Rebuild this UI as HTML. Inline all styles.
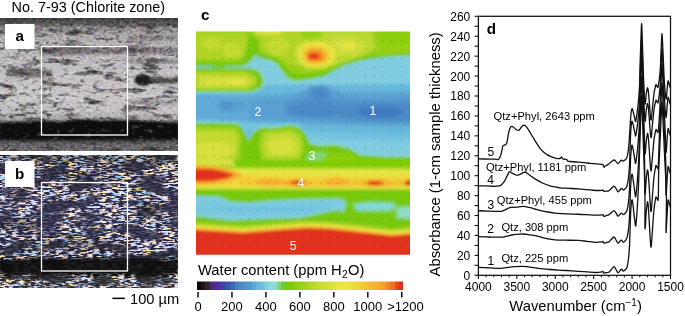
<!DOCTYPE html>
<html><head><meta charset="utf-8"><style>
html,body{margin:0;padding:0;background:#fff;}
body{width:685px;height:316px;position:relative;overflow:hidden;font-family:"Liberation Sans",sans-serif;color:#111;}
.t{position:absolute;white-space:nowrap;line-height:1;}
svg{position:absolute;left:0;top:0;}
</style></head><body>

<svg width="685" height="316" viewBox="0 0 685 316">
<defs>
<filter id="streakA" x="0" y="0" width="100%" height="100%" color-interpolation-filters="sRGB">
  <feTurbulence type="fractalNoise" baseFrequency="0.05 0.17" numOctaves="3" seed="3"/>
  <feColorMatrix type="matrix" values="0 0 0 0 0.22  0 0 0 0 0.21  0 0 0 0 0.24  -3.4 0 0 0 1.6" />
</filter>
<filter id="darkA" x="0" y="0" width="100%" height="100%" color-interpolation-filters="sRGB">
  <feTurbulence type="fractalNoise" baseFrequency="0.13 0.24" numOctaves="3" seed="17"/>
  <feColorMatrix type="matrix" values="0 0 0 0 0.3  0 0 0 0 0.29  0 0 0 0 0.32  -3.6 0 0 0 1.45" />
</filter>
<filter id="speckA" x="0" y="0" width="100%" height="100%" color-interpolation-filters="sRGB">
  <feTurbulence type="fractalNoise" baseFrequency="0.3 0.42" numOctaves="2" seed="7" result="t"/>
  <feColorMatrix in="t" type="matrix" values="1.3 0.3 0 0 -0.3  0.9 0.7 0 0 -0.3  1.0 0 0.4 0 -0.25  0 0 0 0 1" />
</filter>
<filter id="speckB" x="0" y="0" width="100%" height="100%" color-interpolation-filters="sRGB">
  <feTurbulence type="fractalNoise" baseFrequency="0.16 0.6" numOctaves="3" seed="4" result="t1"/>
  <feColorMatrix in="t1" type="matrix" values="3.6 0 0 0 -1.5  3.6 0 0 0 -1.5  3.6 0 0 0 -1.5  0 0 0 0 1" result="L"/>
  <feTurbulence type="fractalNoise" baseFrequency="0.03 0.08" numOctaves="2" seed="31" result="t3"/>
  <feColorMatrix in="t3" type="matrix" values="4.5 0 0 0 -1.6  4.5 0 0 0 -1.6  4.5 0 0 0 -1.6  0 0 0 0 1" result="M"/>
  <feComposite in="L" in2="M" operator="arithmetic" k1="1.5" k2="0.2" k3="0" k4="0" result="LM"/>
  <feTurbulence type="fractalNoise" baseFrequency="0.09 0.25" numOctaves="2" seed="12" result="t2"/>
  <feColorMatrix in="t2" type="matrix" values="1.6 0 0 0 0.1  0.2 0 0 0 0.76  -1.6 0 0 0 1.72  0 0 0 0 1" result="H"/>
  <feComposite in="LM" in2="H" operator="arithmetic" k1="1" k2="0" k3="0" k4="0"/>
</filter>
<filter id="blur1"><feGaussianBlur stdDeviation="1.2"/></filter>
<filter id="blur2"><feGaussianBlur stdDeviation="2"/></filter>
<filter id="blur3"><feGaussianBlur stdDeviation="3"/></filter>
<filter id="mapblur" x="-5%" y="-5%" width="110%" height="110%"><feGaussianBlur stdDeviation="1.4"/></filter>
<linearGradient id="gA" x1="0" y1="0" x2="0" y2="1">
  <stop offset="0" stop-color="#3a383c"/>
  <stop offset="0.035" stop-color="#5a575c"/>
  <stop offset="0.07" stop-color="#8e8a90"/>
  <stop offset="0.12" stop-color="#aaa6ac"/>
  <stop offset="0.2" stop-color="#b8b4ba"/>
  <stop offset="0.4" stop-color="#c4c0c6"/>
  <stop offset="0.6" stop-color="#cac6cc"/>
  <stop offset="0.71" stop-color="#c2bec4"/>
  <stop offset="0.76" stop-color="#a6a2a8"/>
  <stop offset="0.785" stop-color="#6a676e"/>
  <stop offset="0.81" stop-color="#1a191c"/>
  <stop offset="0.895" stop-color="#141316"/>
  <stop offset="0.925" stop-color="#4a474e"/>
  <stop offset="0.95" stop-color="#6a666e"/>
  <stop offset="1" stop-color="#706c74"/>
</linearGradient>
<linearGradient id="gB" x1="0" y1="0" x2="0" y2="1">
  <stop offset="0" stop-color="#222230"/>
  <stop offset="0.06" stop-color="#2a2936"/>
  <stop offset="0.1" stop-color="#262438"/>
  <stop offset="0.4" stop-color="#2c2a46"/>
  <stop offset="0.74" stop-color="#28263c"/>
  <stop offset="0.78" stop-color="#1e1d26"/>
  <stop offset="0.8" stop-color="#0e0e10"/>
  <stop offset="0.9" stop-color="#121214"/>
  <stop offset="0.93" stop-color="#2a2930"/>
  <stop offset="1" stop-color="#302f38"/>
</linearGradient>
<clipPath id="clipA"><rect x="0" y="18" width="178" height="133"/></clipPath>
<clipPath id="clipB"><rect x="0" y="155" width="178" height="133"/></clipPath>
<clipPath id="clipMap"><rect x="196" y="31.5" width="214" height="223.2"/></clipPath>
</defs>
<g clip-path="url(#clipA)">
<rect x="0" y="18" width="178" height="133" fill="url(#gA)"/>
<rect x="0" y="18" width="178" height="133" filter="url(#streakA)"/>
<g filter="url(#blur1)">
<path d="M40,46 C60,45 90,48 125,46 L178,48 L178,54 C140,55 100,53 60,56 L40,55 Z" fill="#4a4650" opacity="0.55"/>
<path d="M0,29 C10,28 25,30 40,29 L40,34 C25,35 10,34 0,34Z" fill="#5a5660" opacity="0.5"/>
<path d="M40,22 C80,21 120,23 178,21 L178,26 C120,27 80,26 40,27Z" fill="#55525a" opacity="0.45"/>
<path d="M128,36 C145,35 160,37 178,35 L178,40 C160,41 145,41 128,40Z" fill="#55525a" opacity="0.45"/>
<path d="M6,70 C20,66 35,67 52,71 L52,76 C35,78 20,78 6,76Z" fill="#3e3b44" opacity="0.65"/>
<ellipse cx="143" cy="80" rx="8.5" ry="6" fill="#1e1c22"/>
<path d="M148,77 C160,76 170,79 178,78 L178,83 C168,84 160,84 148,83Z" fill="#2a282e" opacity="0.75"/>
<path d="M128,60 C140,58 160,60 178,59 L178,63 C160,64 140,64 128,63Z" fill="#55525a" opacity="0.5"/>
<path d="M0,123 C20,122 40,120 60,122 C75,119 90,118 100,121 C115,119 135,121 160,122 L178,123 L178,139 C140,140 100,139 60,140 C30,140 10,139 0,139Z" fill="#0e0d10"/>
<path d="M128,100 C145,99 160,101 178,100 L178,104 C160,105 145,105 128,104Z" fill="#5a5660" opacity="0.45"/>
</g>
<rect x="0" y="18" width="178" height="133" filter="url(#darkA)"/>
<rect x="0" y="18" width="178" height="133" filter="url(#speckA)" style="mix-blend-mode:overlay" opacity="0.5"/>
</g>
<g clip-path="url(#clipB)">
<rect x="0" y="155" width="178" height="133" fill="url(#gB)"/>
<rect x="0" y="155" width="178" height="133" filter="url(#speckB)" style="mix-blend-mode:screen"/>
<g filter="url(#blur3)">
<rect x="0" y="150" width="178" height="12" fill="#141420" opacity="0.3"/>
<ellipse cx="150" cy="210" rx="14" ry="6" fill="#101018" opacity="0.6"/>
<ellipse cx="20" cy="225" rx="22" ry="5" fill="#101018" opacity="0.45"/>
<ellipse cx="90" cy="180" rx="30" ry="4" fill="#101018" opacity="0.35"/>
<ellipse cx="70" cy="245" rx="60" ry="5" fill="#101018" opacity="0.35"/>
</g>
<g filter="url(#blur1)">
<path d="M0,260 C20,259.5 40,258 60,259.5 C80,257 100,258 120,259.5 C140,259 160,259.5 178,260.5 L178,274 C140,275 100,274 60,275 C30,275 10,274 0,274Z" fill="#0a0a0c" opacity="0.92"/>
</g>
</g>
<rect x="5" y="24" width="29.5" height="25" fill="#fff"/>
<rect x="5" y="161" width="29.5" height="26" fill="#fff"/>
<rect x="41.5" y="46.5" width="86" height="88.5" fill="none" stroke="#fff" stroke-width="1.3"/>
<rect x="41.5" y="182.5" width="86" height="88.5" fill="none" stroke="#fff" stroke-width="1.3"/>
<g clip-path="url(#clipMap)"><g filter="url(#mapblur)">
<rect x="190" y="25" width="230" height="240" fill="#7ed0e0"/>
<defs><linearGradient id="mapbase" x1="0" y1="0" x2="0" y2="1" gradientUnits="objectBoundingBox">
<stop offset="0" stop-color="#80cce0"/>
<stop offset="0.25" stop-color="#78c8e0"/>
<stop offset="0.30" stop-color="#68b8dc"/>
<stop offset="0.33" stop-color="#5ea8d6"/>
<stop offset="0.38" stop-color="#5aa2d4"/>
<stop offset="0.42" stop-color="#5ea8d6"/>
<stop offset="0.46" stop-color="#6cbade"/>
<stop offset="0.50" stop-color="#7ccae0"/>
<stop offset="1" stop-color="#80cce0"/>
</linearGradient></defs>
<rect x="190" y="25" width="230" height="240" fill="url(#mapbase)"/>
<path d="M290,58 L420,52 L420,88 L380,90 L340,92 L300,94 L280,92Z" fill="#80cce0"/>
<path d="M240,60 L300,60 L300,92 L260,95 L240,92Z" fill="#80cce0"/>
<path d="M190,92 L260,94 L260,99 L190,100Z" fill="#72c2e0"/>
<path d="M190,86 L420,84 L420,134 L190,132Z" fill="#68b8dc"/>
<path d="M190,95 L250,96 L290,93 L350,92 L420,90 L420,129 L350,127 L300,124 L250,122 L190,124Z" fill="#5eaad6"/>
<path d="M250,99 L290,97 L305,90 L330,88 L350,95 L420,94 L420,126 L350,124 L300,121 L250,118Z" fill="#58a0d2"/>
<path d="M285,101 L305,98 L310,86 L326,85 L332,98 L360,100 L420,99 L420,123 L380,122 L330,119 L285,116Z" fill="#5294cc"/>
<path d="M312,90 L326,89 L328,99 L314,100Z" fill="#4c8ac6"/>
<path d="M335,106 L360,103 L400,103 L420,104 L420,121 L395,121 L360,120 L338,116Z" fill="#4c8ac6"/>
<ellipse cx="380" cy="112" rx="22" ry="5.5" fill="#4279c0"/>
<path d="M290,105 L310,101 L335,103 L340,112 L330,118 L300,117 L288,112Z" fill="#4c8ac6"/>
<ellipse cx="232" cy="106" rx="15" ry="6" fill="#58a0d2"/>
<ellipse cx="226" cy="106" rx="6" ry="5" fill="#5294cc"/>
<ellipse cx="262" cy="112" rx="8" ry="4" fill="#58a0d2"/>
<path d="M300,124 L350,126 L420,128 L420,160 L330,152 L300,150Z" fill="#68b8dc"/>
<path d="M300,130 L350,133 L420,136 L420,160 L330,152 L300,150Z" fill="#72c2e0"/>
<path d="M300,136 L350,140 L420,142 L420,160 L330,152 L300,150Z" fill="#80cce0"/>
<path d="M190,119 L300,124 L300,135 L190,130Z" fill="#72c2e0"/>
<path d="M190,25 L420,25 L420,56 L395,57 L380,58.5 L360,61.5 L345,66 L335,71 L325,77 L310,80 L297,82 L288,80 L282,73 L276,66 L270,61 L262,60 L255,57 L250,63 L240,67 L190,67Z" fill="#90dcc8"/>
<path d="M190,25 L420,25 L420,55 L395,56 L380,57.5 L360,60.5 L345,65 L335,70 L325,76 L310,79 L297,81 L289,79 L283,72 L277,64 L270,60 L262,58.5 L255,55 L250,62 L240,68 L190,68Z" fill="#78c810"/>
<path d="M190,25 L420,25 L420,52 L370,55 L345,62 L335,67 L320,72 L305,74 L292,73 L285,66 L279,59 L266,55 L259,52 L257,40 L250,33 L246,52 L240,62 L190,62Z" fill="#98d018"/>
<path d="M190,33 L244,33 L247,44 L243,59 L190,59.5Z" fill="#b0d428"/>
<path d="M260,30 L300,30 L305,45 L303,62 L296,66 L286,62 L274,56 L263,52 L260,42Z" fill="#b0d428"/>
<path d="M322,30 L372,30 L376,48 L362,56 L345,62 L330,66 L322,60Z" fill="#b8d830"/>
<path d="M378,25 L420,25 L420,44 L385,46 L378,40Z" fill="#8ccf10"/>
<ellipse cx="212" cy="44" rx="10" ry="7" fill="#c2da32"/>
<ellipse cx="232" cy="50" rx="10" ry="8" fill="#c2da32"/>
<ellipse cx="278" cy="46" rx="12" ry="9" fill="#c2da32"/>
<ellipse cx="345" cy="46" rx="22" ry="10" fill="#cadc38"/>
<ellipse cx="345" cy="46" rx="14" ry="6" fill="#d8e040"/>
<ellipse cx="349" cy="45.5" rx="6" ry="4" fill="#e8e444"/>
<path d="M252,25 L283,25 L281,35 L256,35Z" fill="#d8e040"/>
<path d="M256,25 L280,25 L279,32 L259,32Z" fill="#e8e444"/>
<path d="M294,48 L304,40 L322,39 L336,44 L340,54 L336,64 L324,69 L306,69 L296,62Z" fill="#cadc38"/>
<path d="M298,50 L306,43 L321,42 L333,47 L336,55 L332,63 L321,67 L308,67 L300,61Z" fill="#e8e444"/>
<path d="M302,52 L309,46 L320,46 L328,50 L330,57 L326,63 L316,65 L307,64 L303,59Z" fill="#f2c834"/>
<path d="M305,53 L311,49 L320,49 L325,53 L326,58 L322,62 L313,62.5 L307,61Z" fill="#f4a028"/>
<path d="M307,54 L312,51.5 L319,52 L322,55.5 L321,59 L315,60.5 L309,59.5Z" fill="#f07820"/>
<path d="M309,55 L313,53.5 L318,54.5 L319,57.5 L315,59 L310,58.5Z" fill="#e0321f"/>
<path d="M190,67.5 L250,67.5 L260,70 L265,80 L263,88 L252,93 L190,93Z" fill="#90dcc8"/>
<path d="M190,66.3 L212,66.3 L214,67.3 L212,68.3 L190,68.3Z" fill="#80cce0"/>
<path d="M226,66.5 L250,66.3 L252,67.3 L250,68.3 L226,68.2Z" fill="#8ad6e0"/>
<path d="M190,68.3 L250,68.3 L259,71 L263.5,80 L261.5,87.5 L251,91.5 L190,91.5Z" fill="#78c810"/>
<path d="M190,71.5 L246,71.5 L257,77 L256,86 L246,89.5 L190,89.5Z" fill="#b0d428"/>
<path d="M198,75 L246,75.5 L253,81 L248,87 L198,87Z" fill="#cadc38"/>
<path d="M205,78 L243,78.5 L248,82 L243,86 L205,86Z" fill="#d8e040"/>
<ellipse cx="237" cy="82" rx="7" ry="3" fill="#e8e444"/>
<path d="M190,122.0 L215,121.5 L238,122.5 L244,129.5 L248.5,139.5 L253,131.5 L261,126.0 L275,126.5 L290,123.5 L300,126.5 L306,133.5 L310,142.5 L320,144.5 L335,143.5 L350,147.5 L360,153.5 L385,155.5 L420,155.5 L420,199 L370,199 L340,198 L300,198 L275,200 L250,202 L230,201 L220,196 L190,195Z" fill="#90dcc8"/>
<path d="M190,123.5 L215,123 L238,124 L244,131 L248.5,141 L253,133 L261,127.5 L275,128 L290,125 L300,128 L306,135 L310,144 L320,146 L335,145 L350,149 L360,155 L385,157 L420,157 L420,199 L370,199 L340,198 L300,198 L275,200 L250,202 L230,201 L220,196 L190,195Z" fill="#78c810"/>
<path d="M190,127 L236,127 L242,136 L240,160 L190,162Z" fill="#a2d220"/>
<path d="M262,131 L292,128 L302,135 L305,150 L300,160 L262,160 L258,145Z" fill="#a2d220"/>
<path d="M190,131 L234,131 L238,140 L236,158 L190,160Z" fill="#c2da32"/>
<path d="M266,134 L290,132 L299,138 L301,150 L296,158 L266,158 L263,146Z" fill="#c2da32"/>
<ellipse cx="214" cy="150" rx="20" ry="8" fill="#d8e040"/>
<ellipse cx="282" cy="146" rx="14" ry="9" fill="#d8e040"/>
<ellipse cx="318" cy="157" rx="12" ry="5" fill="#84d674"/>
<ellipse cx="340" cy="158" rx="18" ry="4" fill="#8ccf10"/>
<path d="M236,163 L250,161 L420,160 L420,168 L250,168 L236,167Z" fill="#80cc00"/>
<path d="M190,158 L232,159 L236,166 L190,167Z" fill="#d8e040"/>
<path d="M190,167 L420,167.5 L420,190.5 L190,190Z" fill="#b8d830"/>
<path d="M190,169 L420,170 L420,188.5 L190,188Z" fill="#e8e444"/>
<path d="M190,174 L250,175 L300,176 L420,176 L420,188 L300,188 L250,187 L190,186Z" fill="#f0d83c"/>
<path d="M240,178 L300,179 L420,179 L420,186 L300,186 L240,185Z" fill="#f2c834"/>
<ellipse cx="270" cy="182" rx="14" ry="4" fill="#f4b030"/>
<ellipse cx="297" cy="182.5" rx="14" ry="4" fill="#f4b030"/>
<ellipse cx="297" cy="182.5" rx="8" ry="2.2" fill="#f07820"/>
<ellipse cx="297" cy="182.5" rx="5" ry="1.5" fill="#e0321f"/>
<ellipse cx="337" cy="181.5" rx="12" ry="4" fill="#f4b030"/>
<ellipse cx="376" cy="183" rx="15" ry="4" fill="#f4b030"/>
<ellipse cx="375" cy="183" rx="8" ry="2" fill="#e0321f"/>
<ellipse cx="412" cy="183" rx="8" ry="3" fill="#e0321f"/>
<path d="M190,165 L215,166 L232,170 L243,175 L232,181 L215,184 L190,185Z" fill="#f4b030"/>
<path d="M190,168 L212,168.5 L226,171.5 L236,175 L226,179 L212,181.5 L190,182Z" fill="#f07820"/>
<path d="M190,169 L212,169.5 L225,172 L234,175 L225,178.5 L212,180.5 L190,181Z" fill="#e0321f"/>
<path d="M190,190 L420,190 L420,232 L190,232Z" fill="#78c810"/>
<path d="M190,194.75 L220,196 L230,201 L250,202 L275,199.75 L300,198.5 L335,198 L345,199 L348,205 L345,212 L335,211 L300,218.5 L260,219.75 L230,221 L190,216Z" fill="#84d674"/>
<path d="M190,195.75 L220,197 L230,202 L250,203 L275,200.75 L300,199.5 L335,199 L343,200 L345,205 L343,211 L335,210 L300,217.5 L260,218.75 L230,220 L190,215Z" fill="#80cce0"/>
<path d="M196,201 L240,204 L300,203 L332,202 L332,209 L300,215 L240,216 L196,212Z" fill="#78c8e0"/>
<path d="M215,207 L240,208 L300,207 L318,207 L315,210 L300,211 L240,212 L215,210Z" fill="#72c2e0"/>
<path d="M352,203 L372,201 L395,202 L397,209 L390,212 L372,212 L355,211Z" fill="#84d674"/>
<path d="M355,204.5 L372,203 L393,203.5 L394,209 L372,210.5 L357,210Z" fill="#84d8d8"/>
<path d="M396,206 L420,206 L420,220 L396,219Z" fill="#84d674"/>
<path d="M398,207.5 L420,207.5 L420,218 L398,217.5Z" fill="#90dcc8"/>
<path d="M190,190 L420,190 L420,197 L190,196Z" fill="#78c810"/>
<path d="M190,221.8 L243,225 L275,222.4 L306,220.2 L328.5,221.1 L366,225 L391.5,228 L420,225.5 L420,265 L190,265Z" fill="#a2d220"/>
<path d="M190,224.8 L243,228 L275,225.4 L306,223.2 L328.5,224.1 L366,228 L391.5,231 L420,228.5 L420,265 L190,265Z" fill="#e8e444"/>
<path d="M190,227.8 L243,231 L275,228.4 L306,226.2 L328.5,227.1 L366,231 L391.5,234 L420,231.5 L420,265 L190,265Z" fill="#f4b030"/>
<path d="M190,229.8 L243,233 L275,230.4 L306,228.2 L328.5,229.1 L366,233 L391.5,236 L420,233.5 L420,265 L190,265Z" fill="#e0321f"/>
</g>
<path d="M203.85,39.95h1.1v1.1h-1.1zM212.78,39.95h1.1v1.1h-1.1zM221.71,39.95h1.1v1.1h-1.1zM230.64,39.95h1.1v1.1h-1.1zM239.57,39.95h1.1v1.1h-1.1zM248.50,39.95h1.1v1.1h-1.1zM257.43,39.95h1.1v1.1h-1.1zM266.36,39.95h1.1v1.1h-1.1zM275.29,39.95h1.1v1.1h-1.1zM284.22,39.95h1.1v1.1h-1.1zM293.15,39.95h1.1v1.1h-1.1zM302.08,39.95h1.1v1.1h-1.1zM311.01,39.95h1.1v1.1h-1.1zM319.94,39.95h1.1v1.1h-1.1zM328.87,39.95h1.1v1.1h-1.1zM337.80,39.95h1.1v1.1h-1.1zM346.73,39.95h1.1v1.1h-1.1zM355.66,39.95h1.1v1.1h-1.1zM364.59,39.95h1.1v1.1h-1.1zM373.52,39.95h1.1v1.1h-1.1zM382.45,39.95h1.1v1.1h-1.1zM391.38,39.95h1.1v1.1h-1.1zM400.31,39.95h1.1v1.1h-1.1zM203.85,48.88h1.1v1.1h-1.1zM212.78,48.88h1.1v1.1h-1.1zM221.71,48.88h1.1v1.1h-1.1zM230.64,48.88h1.1v1.1h-1.1zM239.57,48.88h1.1v1.1h-1.1zM248.50,48.88h1.1v1.1h-1.1zM257.43,48.88h1.1v1.1h-1.1zM266.36,48.88h1.1v1.1h-1.1zM275.29,48.88h1.1v1.1h-1.1zM284.22,48.88h1.1v1.1h-1.1zM293.15,48.88h1.1v1.1h-1.1zM302.08,48.88h1.1v1.1h-1.1zM311.01,48.88h1.1v1.1h-1.1zM319.94,48.88h1.1v1.1h-1.1zM328.87,48.88h1.1v1.1h-1.1zM337.80,48.88h1.1v1.1h-1.1zM346.73,48.88h1.1v1.1h-1.1zM355.66,48.88h1.1v1.1h-1.1zM364.59,48.88h1.1v1.1h-1.1zM373.52,48.88h1.1v1.1h-1.1zM382.45,48.88h1.1v1.1h-1.1zM391.38,48.88h1.1v1.1h-1.1zM400.31,48.88h1.1v1.1h-1.1zM203.85,57.81h1.1v1.1h-1.1zM212.78,57.81h1.1v1.1h-1.1zM221.71,57.81h1.1v1.1h-1.1zM230.64,57.81h1.1v1.1h-1.1zM239.57,57.81h1.1v1.1h-1.1zM248.50,57.81h1.1v1.1h-1.1zM257.43,57.81h1.1v1.1h-1.1zM266.36,57.81h1.1v1.1h-1.1zM275.29,57.81h1.1v1.1h-1.1zM284.22,57.81h1.1v1.1h-1.1zM293.15,57.81h1.1v1.1h-1.1zM302.08,57.81h1.1v1.1h-1.1zM311.01,57.81h1.1v1.1h-1.1zM319.94,57.81h1.1v1.1h-1.1zM328.87,57.81h1.1v1.1h-1.1zM337.80,57.81h1.1v1.1h-1.1zM346.73,57.81h1.1v1.1h-1.1zM355.66,57.81h1.1v1.1h-1.1zM364.59,57.81h1.1v1.1h-1.1zM373.52,57.81h1.1v1.1h-1.1zM382.45,57.81h1.1v1.1h-1.1zM391.38,57.81h1.1v1.1h-1.1zM400.31,57.81h1.1v1.1h-1.1zM203.85,66.74h1.1v1.1h-1.1zM212.78,66.74h1.1v1.1h-1.1zM221.71,66.74h1.1v1.1h-1.1zM230.64,66.74h1.1v1.1h-1.1zM239.57,66.74h1.1v1.1h-1.1zM248.50,66.74h1.1v1.1h-1.1zM257.43,66.74h1.1v1.1h-1.1zM266.36,66.74h1.1v1.1h-1.1zM275.29,66.74h1.1v1.1h-1.1zM284.22,66.74h1.1v1.1h-1.1zM293.15,66.74h1.1v1.1h-1.1zM302.08,66.74h1.1v1.1h-1.1zM311.01,66.74h1.1v1.1h-1.1zM319.94,66.74h1.1v1.1h-1.1zM328.87,66.74h1.1v1.1h-1.1zM337.80,66.74h1.1v1.1h-1.1zM346.73,66.74h1.1v1.1h-1.1zM355.66,66.74h1.1v1.1h-1.1zM364.59,66.74h1.1v1.1h-1.1zM373.52,66.74h1.1v1.1h-1.1zM382.45,66.74h1.1v1.1h-1.1zM391.38,66.74h1.1v1.1h-1.1zM400.31,66.74h1.1v1.1h-1.1zM203.85,75.67h1.1v1.1h-1.1zM212.78,75.67h1.1v1.1h-1.1zM221.71,75.67h1.1v1.1h-1.1zM230.64,75.67h1.1v1.1h-1.1zM239.57,75.67h1.1v1.1h-1.1zM248.50,75.67h1.1v1.1h-1.1zM257.43,75.67h1.1v1.1h-1.1zM266.36,75.67h1.1v1.1h-1.1zM275.29,75.67h1.1v1.1h-1.1zM284.22,75.67h1.1v1.1h-1.1zM293.15,75.67h1.1v1.1h-1.1zM302.08,75.67h1.1v1.1h-1.1zM311.01,75.67h1.1v1.1h-1.1zM319.94,75.67h1.1v1.1h-1.1zM328.87,75.67h1.1v1.1h-1.1zM337.80,75.67h1.1v1.1h-1.1zM346.73,75.67h1.1v1.1h-1.1zM355.66,75.67h1.1v1.1h-1.1zM364.59,75.67h1.1v1.1h-1.1zM373.52,75.67h1.1v1.1h-1.1zM382.45,75.67h1.1v1.1h-1.1zM391.38,75.67h1.1v1.1h-1.1zM400.31,75.67h1.1v1.1h-1.1zM203.85,84.60h1.1v1.1h-1.1zM212.78,84.60h1.1v1.1h-1.1zM221.71,84.60h1.1v1.1h-1.1zM230.64,84.60h1.1v1.1h-1.1zM239.57,84.60h1.1v1.1h-1.1zM248.50,84.60h1.1v1.1h-1.1zM257.43,84.60h1.1v1.1h-1.1zM266.36,84.60h1.1v1.1h-1.1zM275.29,84.60h1.1v1.1h-1.1zM284.22,84.60h1.1v1.1h-1.1zM293.15,84.60h1.1v1.1h-1.1zM302.08,84.60h1.1v1.1h-1.1zM311.01,84.60h1.1v1.1h-1.1zM319.94,84.60h1.1v1.1h-1.1zM328.87,84.60h1.1v1.1h-1.1zM337.80,84.60h1.1v1.1h-1.1zM346.73,84.60h1.1v1.1h-1.1zM355.66,84.60h1.1v1.1h-1.1zM364.59,84.60h1.1v1.1h-1.1zM373.52,84.60h1.1v1.1h-1.1zM382.45,84.60h1.1v1.1h-1.1zM391.38,84.60h1.1v1.1h-1.1zM400.31,84.60h1.1v1.1h-1.1zM203.85,93.53h1.1v1.1h-1.1zM212.78,93.53h1.1v1.1h-1.1zM221.71,93.53h1.1v1.1h-1.1zM230.64,93.53h1.1v1.1h-1.1zM239.57,93.53h1.1v1.1h-1.1zM248.50,93.53h1.1v1.1h-1.1zM257.43,93.53h1.1v1.1h-1.1zM266.36,93.53h1.1v1.1h-1.1zM275.29,93.53h1.1v1.1h-1.1zM284.22,93.53h1.1v1.1h-1.1zM293.15,93.53h1.1v1.1h-1.1zM302.08,93.53h1.1v1.1h-1.1zM311.01,93.53h1.1v1.1h-1.1zM319.94,93.53h1.1v1.1h-1.1zM328.87,93.53h1.1v1.1h-1.1zM337.80,93.53h1.1v1.1h-1.1zM346.73,93.53h1.1v1.1h-1.1zM355.66,93.53h1.1v1.1h-1.1zM364.59,93.53h1.1v1.1h-1.1zM373.52,93.53h1.1v1.1h-1.1zM382.45,93.53h1.1v1.1h-1.1zM391.38,93.53h1.1v1.1h-1.1zM400.31,93.53h1.1v1.1h-1.1zM203.85,102.46h1.1v1.1h-1.1zM212.78,102.46h1.1v1.1h-1.1zM221.71,102.46h1.1v1.1h-1.1zM230.64,102.46h1.1v1.1h-1.1zM239.57,102.46h1.1v1.1h-1.1zM248.50,102.46h1.1v1.1h-1.1zM257.43,102.46h1.1v1.1h-1.1zM266.36,102.46h1.1v1.1h-1.1zM275.29,102.46h1.1v1.1h-1.1zM284.22,102.46h1.1v1.1h-1.1zM293.15,102.46h1.1v1.1h-1.1zM302.08,102.46h1.1v1.1h-1.1zM311.01,102.46h1.1v1.1h-1.1zM319.94,102.46h1.1v1.1h-1.1zM328.87,102.46h1.1v1.1h-1.1zM337.80,102.46h1.1v1.1h-1.1zM346.73,102.46h1.1v1.1h-1.1zM355.66,102.46h1.1v1.1h-1.1zM364.59,102.46h1.1v1.1h-1.1zM373.52,102.46h1.1v1.1h-1.1zM382.45,102.46h1.1v1.1h-1.1zM391.38,102.46h1.1v1.1h-1.1zM400.31,102.46h1.1v1.1h-1.1zM203.85,111.39h1.1v1.1h-1.1zM212.78,111.39h1.1v1.1h-1.1zM221.71,111.39h1.1v1.1h-1.1zM230.64,111.39h1.1v1.1h-1.1zM239.57,111.39h1.1v1.1h-1.1zM248.50,111.39h1.1v1.1h-1.1zM257.43,111.39h1.1v1.1h-1.1zM266.36,111.39h1.1v1.1h-1.1zM275.29,111.39h1.1v1.1h-1.1zM284.22,111.39h1.1v1.1h-1.1zM293.15,111.39h1.1v1.1h-1.1zM302.08,111.39h1.1v1.1h-1.1zM311.01,111.39h1.1v1.1h-1.1zM319.94,111.39h1.1v1.1h-1.1zM328.87,111.39h1.1v1.1h-1.1zM337.80,111.39h1.1v1.1h-1.1zM346.73,111.39h1.1v1.1h-1.1zM355.66,111.39h1.1v1.1h-1.1zM364.59,111.39h1.1v1.1h-1.1zM373.52,111.39h1.1v1.1h-1.1zM382.45,111.39h1.1v1.1h-1.1zM391.38,111.39h1.1v1.1h-1.1zM400.31,111.39h1.1v1.1h-1.1zM203.85,120.32h1.1v1.1h-1.1zM212.78,120.32h1.1v1.1h-1.1zM221.71,120.32h1.1v1.1h-1.1zM230.64,120.32h1.1v1.1h-1.1zM239.57,120.32h1.1v1.1h-1.1zM248.50,120.32h1.1v1.1h-1.1zM257.43,120.32h1.1v1.1h-1.1zM266.36,120.32h1.1v1.1h-1.1zM275.29,120.32h1.1v1.1h-1.1zM284.22,120.32h1.1v1.1h-1.1zM293.15,120.32h1.1v1.1h-1.1zM302.08,120.32h1.1v1.1h-1.1zM311.01,120.32h1.1v1.1h-1.1zM319.94,120.32h1.1v1.1h-1.1zM328.87,120.32h1.1v1.1h-1.1zM337.80,120.32h1.1v1.1h-1.1zM346.73,120.32h1.1v1.1h-1.1zM355.66,120.32h1.1v1.1h-1.1zM364.59,120.32h1.1v1.1h-1.1zM373.52,120.32h1.1v1.1h-1.1zM382.45,120.32h1.1v1.1h-1.1zM391.38,120.32h1.1v1.1h-1.1zM400.31,120.32h1.1v1.1h-1.1zM203.85,129.25h1.1v1.1h-1.1zM212.78,129.25h1.1v1.1h-1.1zM221.71,129.25h1.1v1.1h-1.1zM230.64,129.25h1.1v1.1h-1.1zM239.57,129.25h1.1v1.1h-1.1zM248.50,129.25h1.1v1.1h-1.1zM257.43,129.25h1.1v1.1h-1.1zM266.36,129.25h1.1v1.1h-1.1zM275.29,129.25h1.1v1.1h-1.1zM284.22,129.25h1.1v1.1h-1.1zM293.15,129.25h1.1v1.1h-1.1zM302.08,129.25h1.1v1.1h-1.1zM311.01,129.25h1.1v1.1h-1.1zM319.94,129.25h1.1v1.1h-1.1zM328.87,129.25h1.1v1.1h-1.1zM337.80,129.25h1.1v1.1h-1.1zM346.73,129.25h1.1v1.1h-1.1zM355.66,129.25h1.1v1.1h-1.1zM364.59,129.25h1.1v1.1h-1.1zM373.52,129.25h1.1v1.1h-1.1zM382.45,129.25h1.1v1.1h-1.1zM391.38,129.25h1.1v1.1h-1.1zM400.31,129.25h1.1v1.1h-1.1zM203.85,138.18h1.1v1.1h-1.1zM212.78,138.18h1.1v1.1h-1.1zM221.71,138.18h1.1v1.1h-1.1zM230.64,138.18h1.1v1.1h-1.1zM239.57,138.18h1.1v1.1h-1.1zM248.50,138.18h1.1v1.1h-1.1zM257.43,138.18h1.1v1.1h-1.1zM266.36,138.18h1.1v1.1h-1.1zM275.29,138.18h1.1v1.1h-1.1zM284.22,138.18h1.1v1.1h-1.1zM293.15,138.18h1.1v1.1h-1.1zM302.08,138.18h1.1v1.1h-1.1zM311.01,138.18h1.1v1.1h-1.1zM319.94,138.18h1.1v1.1h-1.1zM328.87,138.18h1.1v1.1h-1.1zM337.80,138.18h1.1v1.1h-1.1zM346.73,138.18h1.1v1.1h-1.1zM355.66,138.18h1.1v1.1h-1.1zM364.59,138.18h1.1v1.1h-1.1zM373.52,138.18h1.1v1.1h-1.1zM382.45,138.18h1.1v1.1h-1.1zM391.38,138.18h1.1v1.1h-1.1zM400.31,138.18h1.1v1.1h-1.1zM203.85,147.11h1.1v1.1h-1.1zM212.78,147.11h1.1v1.1h-1.1zM221.71,147.11h1.1v1.1h-1.1zM230.64,147.11h1.1v1.1h-1.1zM239.57,147.11h1.1v1.1h-1.1zM248.50,147.11h1.1v1.1h-1.1zM257.43,147.11h1.1v1.1h-1.1zM266.36,147.11h1.1v1.1h-1.1zM275.29,147.11h1.1v1.1h-1.1zM284.22,147.11h1.1v1.1h-1.1zM293.15,147.11h1.1v1.1h-1.1zM302.08,147.11h1.1v1.1h-1.1zM311.01,147.11h1.1v1.1h-1.1zM319.94,147.11h1.1v1.1h-1.1zM328.87,147.11h1.1v1.1h-1.1zM337.80,147.11h1.1v1.1h-1.1zM346.73,147.11h1.1v1.1h-1.1zM355.66,147.11h1.1v1.1h-1.1zM364.59,147.11h1.1v1.1h-1.1zM373.52,147.11h1.1v1.1h-1.1zM382.45,147.11h1.1v1.1h-1.1zM391.38,147.11h1.1v1.1h-1.1zM400.31,147.11h1.1v1.1h-1.1zM203.85,156.04h1.1v1.1h-1.1zM212.78,156.04h1.1v1.1h-1.1zM221.71,156.04h1.1v1.1h-1.1zM230.64,156.04h1.1v1.1h-1.1zM239.57,156.04h1.1v1.1h-1.1zM248.50,156.04h1.1v1.1h-1.1zM257.43,156.04h1.1v1.1h-1.1zM266.36,156.04h1.1v1.1h-1.1zM275.29,156.04h1.1v1.1h-1.1zM284.22,156.04h1.1v1.1h-1.1zM293.15,156.04h1.1v1.1h-1.1zM302.08,156.04h1.1v1.1h-1.1zM311.01,156.04h1.1v1.1h-1.1zM319.94,156.04h1.1v1.1h-1.1zM328.87,156.04h1.1v1.1h-1.1zM337.80,156.04h1.1v1.1h-1.1zM346.73,156.04h1.1v1.1h-1.1zM355.66,156.04h1.1v1.1h-1.1zM364.59,156.04h1.1v1.1h-1.1zM373.52,156.04h1.1v1.1h-1.1zM382.45,156.04h1.1v1.1h-1.1zM391.38,156.04h1.1v1.1h-1.1zM400.31,156.04h1.1v1.1h-1.1zM203.85,164.97h1.1v1.1h-1.1zM212.78,164.97h1.1v1.1h-1.1zM221.71,164.97h1.1v1.1h-1.1zM230.64,164.97h1.1v1.1h-1.1zM239.57,164.97h1.1v1.1h-1.1zM248.50,164.97h1.1v1.1h-1.1zM257.43,164.97h1.1v1.1h-1.1zM266.36,164.97h1.1v1.1h-1.1zM275.29,164.97h1.1v1.1h-1.1zM284.22,164.97h1.1v1.1h-1.1zM293.15,164.97h1.1v1.1h-1.1zM302.08,164.97h1.1v1.1h-1.1zM311.01,164.97h1.1v1.1h-1.1zM319.94,164.97h1.1v1.1h-1.1zM328.87,164.97h1.1v1.1h-1.1zM337.80,164.97h1.1v1.1h-1.1zM346.73,164.97h1.1v1.1h-1.1zM355.66,164.97h1.1v1.1h-1.1zM364.59,164.97h1.1v1.1h-1.1zM373.52,164.97h1.1v1.1h-1.1zM382.45,164.97h1.1v1.1h-1.1zM391.38,164.97h1.1v1.1h-1.1zM400.31,164.97h1.1v1.1h-1.1zM203.85,173.90h1.1v1.1h-1.1zM212.78,173.90h1.1v1.1h-1.1zM221.71,173.90h1.1v1.1h-1.1zM230.64,173.90h1.1v1.1h-1.1zM239.57,173.90h1.1v1.1h-1.1zM248.50,173.90h1.1v1.1h-1.1zM257.43,173.90h1.1v1.1h-1.1zM266.36,173.90h1.1v1.1h-1.1zM275.29,173.90h1.1v1.1h-1.1zM284.22,173.90h1.1v1.1h-1.1zM293.15,173.90h1.1v1.1h-1.1zM302.08,173.90h1.1v1.1h-1.1zM311.01,173.90h1.1v1.1h-1.1zM319.94,173.90h1.1v1.1h-1.1zM328.87,173.90h1.1v1.1h-1.1zM337.80,173.90h1.1v1.1h-1.1zM346.73,173.90h1.1v1.1h-1.1zM355.66,173.90h1.1v1.1h-1.1zM364.59,173.90h1.1v1.1h-1.1zM373.52,173.90h1.1v1.1h-1.1zM382.45,173.90h1.1v1.1h-1.1zM391.38,173.90h1.1v1.1h-1.1zM400.31,173.90h1.1v1.1h-1.1zM203.85,182.83h1.1v1.1h-1.1zM212.78,182.83h1.1v1.1h-1.1zM221.71,182.83h1.1v1.1h-1.1zM230.64,182.83h1.1v1.1h-1.1zM239.57,182.83h1.1v1.1h-1.1zM248.50,182.83h1.1v1.1h-1.1zM257.43,182.83h1.1v1.1h-1.1zM266.36,182.83h1.1v1.1h-1.1zM275.29,182.83h1.1v1.1h-1.1zM284.22,182.83h1.1v1.1h-1.1zM293.15,182.83h1.1v1.1h-1.1zM302.08,182.83h1.1v1.1h-1.1zM311.01,182.83h1.1v1.1h-1.1zM319.94,182.83h1.1v1.1h-1.1zM328.87,182.83h1.1v1.1h-1.1zM337.80,182.83h1.1v1.1h-1.1zM346.73,182.83h1.1v1.1h-1.1zM355.66,182.83h1.1v1.1h-1.1zM364.59,182.83h1.1v1.1h-1.1zM373.52,182.83h1.1v1.1h-1.1zM382.45,182.83h1.1v1.1h-1.1zM391.38,182.83h1.1v1.1h-1.1zM400.31,182.83h1.1v1.1h-1.1zM203.85,191.76h1.1v1.1h-1.1zM212.78,191.76h1.1v1.1h-1.1zM221.71,191.76h1.1v1.1h-1.1zM230.64,191.76h1.1v1.1h-1.1zM239.57,191.76h1.1v1.1h-1.1zM248.50,191.76h1.1v1.1h-1.1zM257.43,191.76h1.1v1.1h-1.1zM266.36,191.76h1.1v1.1h-1.1zM275.29,191.76h1.1v1.1h-1.1zM284.22,191.76h1.1v1.1h-1.1zM293.15,191.76h1.1v1.1h-1.1zM302.08,191.76h1.1v1.1h-1.1zM311.01,191.76h1.1v1.1h-1.1zM319.94,191.76h1.1v1.1h-1.1zM328.87,191.76h1.1v1.1h-1.1zM337.80,191.76h1.1v1.1h-1.1zM346.73,191.76h1.1v1.1h-1.1zM355.66,191.76h1.1v1.1h-1.1zM364.59,191.76h1.1v1.1h-1.1zM373.52,191.76h1.1v1.1h-1.1zM382.45,191.76h1.1v1.1h-1.1zM391.38,191.76h1.1v1.1h-1.1zM400.31,191.76h1.1v1.1h-1.1zM203.85,200.69h1.1v1.1h-1.1zM212.78,200.69h1.1v1.1h-1.1zM221.71,200.69h1.1v1.1h-1.1zM230.64,200.69h1.1v1.1h-1.1zM239.57,200.69h1.1v1.1h-1.1zM248.50,200.69h1.1v1.1h-1.1zM257.43,200.69h1.1v1.1h-1.1zM266.36,200.69h1.1v1.1h-1.1zM275.29,200.69h1.1v1.1h-1.1zM284.22,200.69h1.1v1.1h-1.1zM293.15,200.69h1.1v1.1h-1.1zM302.08,200.69h1.1v1.1h-1.1zM311.01,200.69h1.1v1.1h-1.1zM319.94,200.69h1.1v1.1h-1.1zM328.87,200.69h1.1v1.1h-1.1zM337.80,200.69h1.1v1.1h-1.1zM346.73,200.69h1.1v1.1h-1.1zM355.66,200.69h1.1v1.1h-1.1zM364.59,200.69h1.1v1.1h-1.1zM373.52,200.69h1.1v1.1h-1.1zM382.45,200.69h1.1v1.1h-1.1zM391.38,200.69h1.1v1.1h-1.1zM400.31,200.69h1.1v1.1h-1.1zM203.85,209.62h1.1v1.1h-1.1zM212.78,209.62h1.1v1.1h-1.1zM221.71,209.62h1.1v1.1h-1.1zM230.64,209.62h1.1v1.1h-1.1zM239.57,209.62h1.1v1.1h-1.1zM248.50,209.62h1.1v1.1h-1.1zM257.43,209.62h1.1v1.1h-1.1zM266.36,209.62h1.1v1.1h-1.1zM275.29,209.62h1.1v1.1h-1.1zM284.22,209.62h1.1v1.1h-1.1zM293.15,209.62h1.1v1.1h-1.1zM302.08,209.62h1.1v1.1h-1.1zM311.01,209.62h1.1v1.1h-1.1zM319.94,209.62h1.1v1.1h-1.1zM328.87,209.62h1.1v1.1h-1.1zM337.80,209.62h1.1v1.1h-1.1zM346.73,209.62h1.1v1.1h-1.1zM355.66,209.62h1.1v1.1h-1.1zM364.59,209.62h1.1v1.1h-1.1zM373.52,209.62h1.1v1.1h-1.1zM382.45,209.62h1.1v1.1h-1.1zM391.38,209.62h1.1v1.1h-1.1zM400.31,209.62h1.1v1.1h-1.1zM203.85,218.55h1.1v1.1h-1.1zM212.78,218.55h1.1v1.1h-1.1zM221.71,218.55h1.1v1.1h-1.1zM230.64,218.55h1.1v1.1h-1.1zM239.57,218.55h1.1v1.1h-1.1zM248.50,218.55h1.1v1.1h-1.1zM257.43,218.55h1.1v1.1h-1.1zM266.36,218.55h1.1v1.1h-1.1zM275.29,218.55h1.1v1.1h-1.1zM284.22,218.55h1.1v1.1h-1.1zM293.15,218.55h1.1v1.1h-1.1zM302.08,218.55h1.1v1.1h-1.1zM311.01,218.55h1.1v1.1h-1.1zM319.94,218.55h1.1v1.1h-1.1zM328.87,218.55h1.1v1.1h-1.1zM337.80,218.55h1.1v1.1h-1.1zM346.73,218.55h1.1v1.1h-1.1zM355.66,218.55h1.1v1.1h-1.1zM364.59,218.55h1.1v1.1h-1.1zM373.52,218.55h1.1v1.1h-1.1zM382.45,218.55h1.1v1.1h-1.1zM391.38,218.55h1.1v1.1h-1.1zM400.31,218.55h1.1v1.1h-1.1zM203.85,227.48h1.1v1.1h-1.1zM212.78,227.48h1.1v1.1h-1.1zM221.71,227.48h1.1v1.1h-1.1zM230.64,227.48h1.1v1.1h-1.1zM239.57,227.48h1.1v1.1h-1.1zM248.50,227.48h1.1v1.1h-1.1zM257.43,227.48h1.1v1.1h-1.1zM266.36,227.48h1.1v1.1h-1.1zM275.29,227.48h1.1v1.1h-1.1zM284.22,227.48h1.1v1.1h-1.1zM293.15,227.48h1.1v1.1h-1.1zM302.08,227.48h1.1v1.1h-1.1zM311.01,227.48h1.1v1.1h-1.1zM319.94,227.48h1.1v1.1h-1.1zM328.87,227.48h1.1v1.1h-1.1zM337.80,227.48h1.1v1.1h-1.1zM346.73,227.48h1.1v1.1h-1.1zM355.66,227.48h1.1v1.1h-1.1zM364.59,227.48h1.1v1.1h-1.1zM373.52,227.48h1.1v1.1h-1.1zM382.45,227.48h1.1v1.1h-1.1zM391.38,227.48h1.1v1.1h-1.1zM400.31,227.48h1.1v1.1h-1.1zM203.85,236.41h1.1v1.1h-1.1zM212.78,236.41h1.1v1.1h-1.1zM221.71,236.41h1.1v1.1h-1.1zM230.64,236.41h1.1v1.1h-1.1zM239.57,236.41h1.1v1.1h-1.1zM248.50,236.41h1.1v1.1h-1.1zM257.43,236.41h1.1v1.1h-1.1zM266.36,236.41h1.1v1.1h-1.1zM275.29,236.41h1.1v1.1h-1.1zM284.22,236.41h1.1v1.1h-1.1zM293.15,236.41h1.1v1.1h-1.1zM302.08,236.41h1.1v1.1h-1.1zM311.01,236.41h1.1v1.1h-1.1zM319.94,236.41h1.1v1.1h-1.1zM328.87,236.41h1.1v1.1h-1.1zM337.80,236.41h1.1v1.1h-1.1zM346.73,236.41h1.1v1.1h-1.1zM355.66,236.41h1.1v1.1h-1.1zM364.59,236.41h1.1v1.1h-1.1zM373.52,236.41h1.1v1.1h-1.1zM382.45,236.41h1.1v1.1h-1.1zM391.38,236.41h1.1v1.1h-1.1zM400.31,236.41h1.1v1.1h-1.1zM203.85,245.34h1.1v1.1h-1.1zM212.78,245.34h1.1v1.1h-1.1zM221.71,245.34h1.1v1.1h-1.1zM230.64,245.34h1.1v1.1h-1.1zM239.57,245.34h1.1v1.1h-1.1zM248.50,245.34h1.1v1.1h-1.1zM257.43,245.34h1.1v1.1h-1.1zM266.36,245.34h1.1v1.1h-1.1zM275.29,245.34h1.1v1.1h-1.1zM284.22,245.34h1.1v1.1h-1.1zM293.15,245.34h1.1v1.1h-1.1zM302.08,245.34h1.1v1.1h-1.1zM311.01,245.34h1.1v1.1h-1.1zM319.94,245.34h1.1v1.1h-1.1zM328.87,245.34h1.1v1.1h-1.1zM337.80,245.34h1.1v1.1h-1.1zM346.73,245.34h1.1v1.1h-1.1zM355.66,245.34h1.1v1.1h-1.1zM364.59,245.34h1.1v1.1h-1.1zM373.52,245.34h1.1v1.1h-1.1zM382.45,245.34h1.1v1.1h-1.1zM391.38,245.34h1.1v1.1h-1.1zM400.31,245.34h1.1v1.1h-1.1z" fill="#000" opacity="0.18"/>
</g>
<defs><linearGradient id="cbar" x1="0" y1="0" x2="1" y2="0"><stop offset="0.0000" stop-color="#080808"/><stop offset="0.0204" stop-color="#080808"/><stop offset="0.0204" stop-color="#201418"/><stop offset="0.0408" stop-color="#201418"/><stop offset="0.0408" stop-color="#3a2030"/><stop offset="0.0612" stop-color="#3a2030"/><stop offset="0.0612" stop-color="#48306a"/><stop offset="0.0816" stop-color="#48306a"/><stop offset="0.0816" stop-color="#5a2898"/><stop offset="0.1020" stop-color="#5a2898"/><stop offset="0.1020" stop-color="#4a38a0"/><stop offset="0.1224" stop-color="#4a38a0"/><stop offset="0.1224" stop-color="#3a48a8"/><stop offset="0.1429" stop-color="#3a48a8"/><stop offset="0.1429" stop-color="#3858b0"/><stop offset="0.1633" stop-color="#3858b0"/><stop offset="0.1633" stop-color="#3a68b8"/><stop offset="0.1837" stop-color="#3a68b8"/><stop offset="0.1837" stop-color="#4a80c0"/><stop offset="0.2041" stop-color="#4a80c0"/><stop offset="0.2041" stop-color="#4c88c4"/><stop offset="0.2245" stop-color="#4c88c4"/><stop offset="0.2245" stop-color="#5090c8"/><stop offset="0.2449" stop-color="#5090c8"/><stop offset="0.2449" stop-color="#5498cc"/><stop offset="0.2653" stop-color="#5498cc"/><stop offset="0.2653" stop-color="#5aa8d4"/><stop offset="0.2857" stop-color="#5aa8d4"/><stop offset="0.2857" stop-color="#68b8dc"/><stop offset="0.3061" stop-color="#68b8dc"/><stop offset="0.3061" stop-color="#70c0e0"/><stop offset="0.3265" stop-color="#70c0e0"/><stop offset="0.3265" stop-color="#80cce0"/><stop offset="0.3469" stop-color="#80cce0"/><stop offset="0.3469" stop-color="#8ad8e0"/><stop offset="0.3673" stop-color="#8ad8e0"/><stop offset="0.3673" stop-color="#90dcc8"/><stop offset="0.3878" stop-color="#90dcc8"/><stop offset="0.3878" stop-color="#80d870"/><stop offset="0.4082" stop-color="#80d870"/><stop offset="0.4082" stop-color="#70c840"/><stop offset="0.4286" stop-color="#70c840"/><stop offset="0.4286" stop-color="#78c810"/><stop offset="0.4490" stop-color="#78c810"/><stop offset="0.4490" stop-color="#80cc00"/><stop offset="0.4694" stop-color="#80cc00"/><stop offset="0.4694" stop-color="#8ccf10"/><stop offset="0.4898" stop-color="#8ccf10"/><stop offset="0.4898" stop-color="#98d018"/><stop offset="0.5102" stop-color="#98d018"/><stop offset="0.5102" stop-color="#a0d020"/><stop offset="0.5306" stop-color="#a0d020"/><stop offset="0.5306" stop-color="#b0d428"/><stop offset="0.5510" stop-color="#b0d428"/><stop offset="0.5510" stop-color="#b8d830"/><stop offset="0.5714" stop-color="#b8d830"/><stop offset="0.5714" stop-color="#c0da30"/><stop offset="0.5918" stop-color="#c0da30"/><stop offset="0.5918" stop-color="#c8dc38"/><stop offset="0.6122" stop-color="#c8dc38"/><stop offset="0.6122" stop-color="#d0de38"/><stop offset="0.6327" stop-color="#d0de38"/><stop offset="0.6327" stop-color="#d8e040"/><stop offset="0.6531" stop-color="#d8e040"/><stop offset="0.6531" stop-color="#e0e240"/><stop offset="0.6735" stop-color="#e0e240"/><stop offset="0.6735" stop-color="#e8e444"/><stop offset="0.6939" stop-color="#e8e444"/><stop offset="0.6939" stop-color="#f0e444"/><stop offset="0.7143" stop-color="#f0e444"/><stop offset="0.7143" stop-color="#f0e444"/><stop offset="0.7347" stop-color="#f0e444"/><stop offset="0.7347" stop-color="#f0e040"/><stop offset="0.7551" stop-color="#f0e040"/><stop offset="0.7551" stop-color="#f0d83c"/><stop offset="0.7755" stop-color="#f0d83c"/><stop offset="0.7755" stop-color="#f2d038"/><stop offset="0.7959" stop-color="#f2d038"/><stop offset="0.7959" stop-color="#f2c834"/><stop offset="0.8163" stop-color="#f2c834"/><stop offset="0.8163" stop-color="#f4c030"/><stop offset="0.8367" stop-color="#f4c030"/><stop offset="0.8367" stop-color="#f4b830"/><stop offset="0.8571" stop-color="#f4b830"/><stop offset="0.8571" stop-color="#f4b030"/><stop offset="0.8776" stop-color="#f4b030"/><stop offset="0.8776" stop-color="#f4a82c"/><stop offset="0.8980" stop-color="#f4a82c"/><stop offset="0.8980" stop-color="#f4a028"/><stop offset="0.9184" stop-color="#f4a028"/><stop offset="0.9184" stop-color="#f08828"/><stop offset="0.9388" stop-color="#f08828"/><stop offset="0.9388" stop-color="#f07020"/><stop offset="0.9592" stop-color="#f07020"/><stop offset="0.9592" stop-color="#e84420"/><stop offset="0.9796" stop-color="#e84420"/><stop offset="0.9796" stop-color="#e03020"/><stop offset="1.0000" stop-color="#e03020"/></linearGradient></defs>
<rect x="197" y="281.5" width="206" height="8.5" fill="url(#cbar)"/>
<rect x="197.25" y="292" width="1.5" height="5.5" fill="#111"/>
<rect x="231.21" y="292" width="1.5" height="5.5" fill="#111"/>
<rect x="265.17" y="292" width="1.5" height="5.5" fill="#111"/>
<rect x="299.13" y="292" width="1.5" height="5.5" fill="#111"/>
<rect x="333.09" y="292" width="1.5" height="5.5" fill="#111"/>
<rect x="367.05" y="292" width="1.5" height="5.5" fill="#111"/>
<rect x="401.01" y="292" width="1.5" height="5.5" fill="#111"/>
<rect x="478.4" y="16.3" width="192.1" height="259" fill="none" stroke="#111" stroke-width="1.25"/>
<line x1="474.6" y1="275.30" x2="478.4" y2="275.30" stroke="#111" stroke-width="1.1"/>
<line x1="474.6" y1="265.34" x2="478.4" y2="265.34" stroke="#111" stroke-width="1.1"/>
<line x1="474.6" y1="255.38" x2="478.4" y2="255.38" stroke="#111" stroke-width="1.1"/>
<line x1="474.6" y1="245.42" x2="478.4" y2="245.42" stroke="#111" stroke-width="1.1"/>
<line x1="474.6" y1="235.45" x2="478.4" y2="235.45" stroke="#111" stroke-width="1.1"/>
<line x1="474.6" y1="225.49" x2="478.4" y2="225.49" stroke="#111" stroke-width="1.1"/>
<line x1="474.6" y1="215.53" x2="478.4" y2="215.53" stroke="#111" stroke-width="1.1"/>
<line x1="474.6" y1="205.57" x2="478.4" y2="205.57" stroke="#111" stroke-width="1.1"/>
<line x1="474.6" y1="195.61" x2="478.4" y2="195.61" stroke="#111" stroke-width="1.1"/>
<line x1="474.6" y1="185.65" x2="478.4" y2="185.65" stroke="#111" stroke-width="1.1"/>
<line x1="474.6" y1="175.68" x2="478.4" y2="175.68" stroke="#111" stroke-width="1.1"/>
<line x1="474.6" y1="165.72" x2="478.4" y2="165.72" stroke="#111" stroke-width="1.1"/>
<line x1="474.6" y1="155.76" x2="478.4" y2="155.76" stroke="#111" stroke-width="1.1"/>
<line x1="474.6" y1="145.80" x2="478.4" y2="145.80" stroke="#111" stroke-width="1.1"/>
<line x1="474.6" y1="135.84" x2="478.4" y2="135.84" stroke="#111" stroke-width="1.1"/>
<line x1="474.6" y1="125.88" x2="478.4" y2="125.88" stroke="#111" stroke-width="1.1"/>
<line x1="474.6" y1="115.92" x2="478.4" y2="115.92" stroke="#111" stroke-width="1.1"/>
<line x1="474.6" y1="105.95" x2="478.4" y2="105.95" stroke="#111" stroke-width="1.1"/>
<line x1="474.6" y1="95.99" x2="478.4" y2="95.99" stroke="#111" stroke-width="1.1"/>
<line x1="474.6" y1="86.03" x2="478.4" y2="86.03" stroke="#111" stroke-width="1.1"/>
<line x1="474.6" y1="76.07" x2="478.4" y2="76.07" stroke="#111" stroke-width="1.1"/>
<line x1="474.6" y1="66.11" x2="478.4" y2="66.11" stroke="#111" stroke-width="1.1"/>
<line x1="474.6" y1="56.15" x2="478.4" y2="56.15" stroke="#111" stroke-width="1.1"/>
<line x1="474.6" y1="46.18" x2="478.4" y2="46.18" stroke="#111" stroke-width="1.1"/>
<line x1="474.6" y1="36.22" x2="478.4" y2="36.22" stroke="#111" stroke-width="1.1"/>
<line x1="474.6" y1="26.26" x2="478.4" y2="26.26" stroke="#111" stroke-width="1.1"/>
<line x1="474.6" y1="16.30" x2="478.4" y2="16.30" stroke="#111" stroke-width="1.1"/>
<line x1="478.40" y1="275.3" x2="478.40" y2="279.00" stroke="#111" stroke-width="1.1"/>
<line x1="486.08" y1="275.3" x2="486.08" y2="277.30" stroke="#111" stroke-width="1.1"/>
<line x1="493.77" y1="275.3" x2="493.77" y2="277.30" stroke="#111" stroke-width="1.1"/>
<line x1="501.45" y1="275.3" x2="501.45" y2="277.30" stroke="#111" stroke-width="1.1"/>
<line x1="509.14" y1="275.3" x2="509.14" y2="277.30" stroke="#111" stroke-width="1.1"/>
<line x1="516.82" y1="275.3" x2="516.82" y2="279.00" stroke="#111" stroke-width="1.1"/>
<line x1="524.50" y1="275.3" x2="524.50" y2="277.30" stroke="#111" stroke-width="1.1"/>
<line x1="532.19" y1="275.3" x2="532.19" y2="277.30" stroke="#111" stroke-width="1.1"/>
<line x1="539.87" y1="275.3" x2="539.87" y2="277.30" stroke="#111" stroke-width="1.1"/>
<line x1="547.56" y1="275.3" x2="547.56" y2="277.30" stroke="#111" stroke-width="1.1"/>
<line x1="555.24" y1="275.3" x2="555.24" y2="279.00" stroke="#111" stroke-width="1.1"/>
<line x1="562.92" y1="275.3" x2="562.92" y2="277.30" stroke="#111" stroke-width="1.1"/>
<line x1="570.61" y1="275.3" x2="570.61" y2="277.30" stroke="#111" stroke-width="1.1"/>
<line x1="578.29" y1="275.3" x2="578.29" y2="277.30" stroke="#111" stroke-width="1.1"/>
<line x1="585.98" y1="275.3" x2="585.98" y2="277.30" stroke="#111" stroke-width="1.1"/>
<line x1="593.66" y1="275.3" x2="593.66" y2="279.00" stroke="#111" stroke-width="1.1"/>
<line x1="601.34" y1="275.3" x2="601.34" y2="277.30" stroke="#111" stroke-width="1.1"/>
<line x1="609.03" y1="275.3" x2="609.03" y2="277.30" stroke="#111" stroke-width="1.1"/>
<line x1="616.71" y1="275.3" x2="616.71" y2="277.30" stroke="#111" stroke-width="1.1"/>
<line x1="624.40" y1="275.3" x2="624.40" y2="277.30" stroke="#111" stroke-width="1.1"/>
<line x1="632.08" y1="275.3" x2="632.08" y2="279.00" stroke="#111" stroke-width="1.1"/>
<line x1="639.76" y1="275.3" x2="639.76" y2="277.30" stroke="#111" stroke-width="1.1"/>
<line x1="647.45" y1="275.3" x2="647.45" y2="277.30" stroke="#111" stroke-width="1.1"/>
<line x1="655.13" y1="275.3" x2="655.13" y2="277.30" stroke="#111" stroke-width="1.1"/>
<line x1="662.82" y1="275.3" x2="662.82" y2="277.30" stroke="#111" stroke-width="1.1"/>
<line x1="670.50" y1="275.3" x2="670.50" y2="279.00" stroke="#111" stroke-width="1.1"/>
<g fill="none" stroke="#111" stroke-width="1.3" stroke-linejoin="round">
<path d="M478.00,267.30 C479.95,267.40 486.20,267.73 489.70,267.90 C493.20,268.07 496.62,268.30 499.00,268.30 C501.38,268.30 502.43,268.07 504.00,267.90 C505.57,267.73 506.57,267.50 508.40,267.30 C510.23,267.10 512.67,266.86 515.00,266.70 C517.33,266.54 520.40,266.37 522.40,266.35 C524.40,266.33 525.45,266.44 527.00,266.60 C528.55,266.76 530.03,267.05 531.70,267.30 C533.37,267.55 535.05,267.83 537.00,268.10 C538.95,268.37 541.23,268.67 543.40,268.90 C545.57,269.13 547.57,269.30 550.00,269.50 C552.43,269.70 555.33,269.93 558.00,270.10 C560.67,270.27 562.60,270.29 566.00,270.50 C569.40,270.71 574.90,271.12 578.40,271.35 C581.90,271.58 584.08,271.71 587.00,271.90 C589.92,272.09 593.35,272.52 595.90,272.50 C598.45,272.48 601.13,271.99 602.30,271.80 C603.47,271.61 602.62,271.13 602.90,271.35 C603.18,271.57 603.48,272.88 604.00,273.10 C604.52,273.33 605.22,272.83 606.00,272.70 C606.78,272.57 607.87,272.75 608.70,272.30 C609.53,271.85 610.12,270.93 611.00,270.00 C611.88,269.07 613.17,266.78 614.00,266.70 C614.83,266.62 615.33,268.49 616.00,269.50 C616.67,270.51 617.33,272.57 618.00,272.75 C618.67,272.93 619.40,271.18 620.00,270.60 C620.60,270.02 621.05,269.17 621.60,269.25 C622.15,269.33 622.70,271.01 623.30,271.10 C623.90,271.19 624.62,270.35 625.20,269.80 C625.78,269.25 626.33,269.05 626.80,267.80 C627.27,266.55 627.67,264.33 628.00,262.30 C628.33,260.27 628.53,258.63 628.80,255.60 C629.07,252.57 629.32,250.76 629.60,244.10 C629.88,237.44 630.22,222.40 630.50,215.64 C630.78,208.88 631.02,206.16 631.30,203.56 C631.58,200.95 631.85,199.19 632.20,200.00 C632.55,200.81 632.97,205.00 633.40,208.40 C633.83,211.80 634.37,217.80 634.80,220.40 C635.23,223.00 635.40,229.37 636.00,224.00 C636.60,218.63 637.79,199.89 638.38,188.16 C638.97,176.43 639.17,164.27 639.53,153.60 C639.89,142.93 640.24,132.27 640.51,124.16 C640.78,116.05 640.97,109.65 641.15,104.96 C641.33,100.27 641.45,95.95 641.60,96.00 C641.75,96.05 641.87,100.41 642.06,105.27 C642.25,110.12 642.44,116.74 642.72,125.13 C643.00,133.51 643.37,144.55 643.74,155.58 C644.10,166.61 644.72,179.19 644.93,191.33 C645.14,203.46 644.77,225.08 645.00,228.40 C645.23,231.72 645.93,215.42 646.30,211.24 C646.67,207.06 646.97,204.86 647.20,203.32 C647.43,201.78 647.52,201.47 647.70,202.00 C647.88,202.53 648.03,203.12 648.30,206.49 C648.57,209.86 648.97,216.59 649.30,222.21 C649.63,227.82 649.98,236.05 650.30,240.16 C650.62,244.28 650.87,248.27 651.20,246.90 C651.53,245.53 651.83,238.17 652.30,231.93 C652.77,225.69 653.45,215.05 654.00,209.47 C654.55,203.90 655.22,200.58 655.60,198.50 C655.98,196.42 656.02,196.92 656.30,197.00 C656.58,197.08 656.97,198.83 657.30,199.00 C657.63,199.17 658.07,202.65 658.30,198.00 C658.53,193.35 658.44,179.92 658.71,171.12 C658.97,162.32 659.52,153.20 659.89,145.20 C660.25,137.20 660.61,129.20 660.89,123.12 C661.17,117.04 661.36,112.24 661.54,108.72 C661.73,105.20 661.83,101.60 662.00,102.00 C662.17,102.40 662.32,106.34 662.56,111.12 C662.81,115.90 663.08,122.41 663.45,130.67 C663.83,138.92 664.32,149.78 664.82,160.63 C665.31,171.49 666.22,183.87 666.41,195.82 C666.61,207.76 665.87,229.45 666.00,232.30 C666.13,235.15 666.88,218.03 667.20,212.92 C667.52,207.81 667.72,203.77 667.90,201.62 C668.08,199.46 668.07,199.69 668.30,200.00 C668.53,200.31 668.97,202.33 669.30,203.50 C669.63,204.67 670.13,206.42 670.30,207.00"/>
<path d="M478.00,236.60 C479.95,236.67 485.80,236.90 489.70,237.00 C493.60,237.10 498.85,237.27 501.40,237.20 C503.95,237.13 503.83,236.83 505.00,236.60 C506.17,236.37 507.23,236.07 508.40,235.80 C509.57,235.53 510.73,235.23 512.00,235.00 C513.27,234.77 514.75,234.55 516.00,234.40 C517.25,234.25 518.25,234.17 519.50,234.10 C520.75,234.03 522.08,233.93 523.50,234.00 C524.92,234.07 526.25,234.27 528.00,234.50 C529.75,234.73 532.00,235.02 534.00,235.40 C536.00,235.78 538.05,236.31 540.00,236.80 C541.95,237.29 543.87,237.93 545.70,238.35 C547.53,238.77 548.95,239.01 551.00,239.30 C553.05,239.59 555.50,239.95 558.00,240.10 C560.50,240.25 562.60,240.15 566.00,240.20 C569.40,240.25 574.90,240.22 578.40,240.40 C581.90,240.58 584.08,240.98 587.00,241.30 C589.92,241.62 593.35,242.22 595.90,242.30 C598.45,242.38 601.13,241.96 602.30,241.80 C603.47,241.64 602.62,241.13 602.90,241.35 C603.18,241.57 603.48,242.89 604.00,243.10 C604.52,243.31 605.22,242.80 606.00,242.60 C606.78,242.40 607.87,242.37 608.70,241.90 C609.53,241.43 610.12,240.62 611.00,239.80 C611.88,238.98 613.17,236.97 614.00,237.00 C614.83,237.03 615.33,238.98 616.00,240.00 C616.67,241.02 617.33,242.88 618.00,243.10 C618.67,243.32 619.40,241.78 620.00,241.30 C620.60,240.82 621.05,240.03 621.60,240.20 C622.15,240.37 622.70,242.23 623.30,242.30 C623.90,242.37 624.62,241.25 625.20,240.60 C625.78,239.95 626.33,239.68 626.80,238.40 C627.27,237.12 627.67,234.93 628.00,232.90 C628.33,230.87 628.53,229.23 628.80,226.20 C629.07,223.17 629.32,220.86 629.60,214.70 C629.88,208.54 630.22,195.37 630.50,189.21 C630.78,183.06 631.02,180.24 631.30,177.77 C631.58,175.31 631.85,173.77 632.20,174.41 C632.55,175.04 632.97,178.67 633.40,181.57 C633.83,184.47 634.37,189.59 634.80,191.81 C635.23,194.03 635.37,199.92 636.00,194.88 C636.63,189.84 637.99,172.49 638.60,161.59 C639.21,150.70 639.34,139.40 639.67,129.50 C640.00,119.59 640.33,109.68 640.58,102.15 C640.83,94.62 641.00,88.68 641.17,84.32 C641.34,79.96 641.46,76.02 641.60,76.00 C641.74,75.98 641.86,79.92 642.02,84.23 C642.19,88.54 642.36,94.42 642.61,101.86 C642.86,109.31 643.19,119.11 643.51,128.91 C643.84,138.70 644.32,149.87 644.57,160.65 C644.82,171.43 644.71,190.63 645.00,193.57 C645.29,196.51 645.93,182.01 646.30,178.28 C646.67,174.56 646.97,172.60 647.20,171.23 C647.43,169.86 647.52,169.56 647.70,170.05 C647.88,170.54 648.03,171.08 648.30,174.18 C648.57,177.28 648.97,183.48 649.30,188.64 C649.63,193.81 649.98,201.38 650.30,205.17 C650.62,208.96 650.87,212.63 651.20,211.37 C651.53,210.11 651.83,203.35 652.30,197.62 C652.77,191.90 653.45,182.12 654.00,177.01 C654.55,171.89 655.22,168.84 655.60,166.93 C655.98,165.02 656.02,165.44 656.30,165.56 C656.58,165.67 656.97,167.42 657.30,167.60 C657.63,167.78 658.00,170.70 658.30,166.64 C658.60,162.58 658.81,150.89 659.11,143.22 C659.42,135.55 659.82,127.61 660.14,120.64 C660.46,113.67 660.77,106.70 661.01,101.40 C661.25,96.10 661.42,91.92 661.58,88.85 C661.75,85.79 661.85,82.67 662.00,83.00 C662.15,83.33 662.29,86.73 662.51,90.84 C662.72,94.94 662.95,100.54 663.27,107.63 C663.59,114.73 664.02,124.06 664.44,133.39 C664.86,142.72 665.55,153.36 665.81,163.62 C666.07,173.89 665.77,192.58 666.00,194.98 C666.23,197.37 666.88,182.48 667.20,178.00 C667.52,173.52 667.72,169.98 667.90,168.09 C668.08,166.21 668.07,166.33 668.30,166.68 C668.53,167.03 668.97,169.01 669.30,170.18 C669.63,171.35 670.13,173.10 670.30,173.68"/>
<path d="M478.00,210.60 C479.95,210.70 486.00,211.07 489.70,211.20 C493.40,211.33 497.98,211.47 500.20,211.40 C502.42,211.33 502.03,211.13 503.00,210.80 C503.97,210.47 505.08,209.83 506.00,209.40 C506.92,208.97 507.72,208.53 508.50,208.20 C509.28,207.87 509.87,207.55 510.70,207.40 C511.53,207.25 512.53,207.35 513.50,207.30 C514.47,207.25 515.42,207.20 516.50,207.10 C517.58,207.00 518.92,206.83 520.00,206.70 C521.08,206.57 521.92,206.28 523.00,206.30 C524.08,206.32 525.23,206.57 526.50,206.80 C527.77,207.03 529.18,207.33 530.60,207.70 C532.02,208.07 533.27,208.52 535.00,209.00 C536.73,209.48 538.83,210.10 541.00,210.60 C543.17,211.10 545.67,211.58 548.00,212.00 C550.33,212.42 552.00,212.80 555.00,213.10 C558.00,213.40 562.10,213.61 566.00,213.80 C569.90,213.99 574.90,214.10 578.40,214.25 C581.90,214.40 584.08,214.54 587.00,214.70 C589.92,214.86 593.35,215.17 595.90,215.20 C598.45,215.23 601.13,215.00 602.30,214.90 C603.47,214.80 602.62,214.36 602.90,214.60 C603.18,214.84 603.48,216.17 604.00,216.35 C604.52,216.53 605.22,215.94 606.00,215.70 C606.78,215.46 607.87,215.35 608.70,214.90 C609.53,214.45 610.12,213.70 611.00,213.00 C611.88,212.30 613.17,210.70 614.00,210.70 C614.83,210.70 615.33,212.10 616.00,213.00 C616.67,213.90 617.33,215.88 618.00,216.10 C618.67,216.32 619.40,214.80 620.00,214.30 C620.60,213.80 621.05,213.05 621.60,213.10 C622.15,213.15 622.70,214.58 623.30,214.60 C623.90,214.62 624.62,213.78 625.20,213.20 C625.78,212.62 626.33,212.37 626.80,211.10 C627.27,209.83 627.67,207.63 628.00,205.60 C628.33,203.57 628.53,201.93 628.80,198.90 C629.07,195.87 629.32,193.82 629.60,187.40 C629.88,180.98 630.22,166.86 630.50,160.39 C630.78,153.93 631.02,151.16 631.30,148.62 C631.58,146.08 631.85,144.78 632.20,145.16 C632.55,145.54 632.97,148.58 633.40,150.91 C633.83,153.24 634.37,157.35 634.80,159.13 C635.23,160.91 635.31,166.12 636.00,161.60 C636.69,157.08 638.27,141.71 638.92,132.03 C639.56,122.35 639.57,112.32 639.87,103.52 C640.16,94.72 640.45,85.92 640.68,79.23 C640.90,72.54 641.05,67.26 641.20,63.39 C641.36,59.52 641.47,56.09 641.60,56.00 C641.73,55.91 641.83,59.26 641.98,62.84 C642.12,66.43 642.26,71.32 642.47,77.51 C642.67,83.70 642.94,91.85 643.22,99.99 C643.49,108.14 643.80,117.43 644.10,126.39 C644.39,135.35 644.63,151.39 645.00,153.76 C645.37,156.13 645.93,143.82 646.30,140.62 C646.67,137.42 646.97,135.73 647.20,134.55 C647.43,133.37 647.52,133.09 647.70,133.54 C647.88,133.99 648.03,134.47 648.30,137.26 C648.57,140.05 648.97,145.64 649.30,150.29 C649.63,154.94 649.98,161.77 650.30,165.18 C650.62,168.59 650.87,171.89 651.20,170.76 C651.53,169.63 651.83,163.56 652.30,158.42 C652.77,153.28 653.45,144.50 654.00,139.91 C654.55,135.31 655.22,132.57 655.60,130.85 C655.98,129.14 656.02,129.48 656.30,129.62 C656.58,129.76 656.97,131.51 657.30,131.71 C657.63,131.91 657.91,134.07 658.30,130.80 C658.69,127.53 659.30,118.22 659.66,112.10 C660.03,105.97 660.23,99.63 660.48,94.06 C660.74,88.49 660.99,82.93 661.18,78.70 C661.37,74.47 661.50,71.13 661.64,68.68 C661.77,66.23 661.87,63.75 662.00,64.00 C662.13,64.25 662.26,66.94 662.43,70.18 C662.60,73.42 662.78,77.84 663.03,83.43 C663.29,89.02 663.62,96.38 663.96,103.74 C664.29,111.10 664.70,119.49 665.04,127.59 C665.38,135.69 665.64,150.57 666.00,152.32 C666.36,154.07 666.88,141.84 667.20,138.09 C667.52,134.33 667.72,131.37 667.90,129.79 C668.08,128.20 668.07,128.21 668.30,128.60 C668.53,128.99 668.97,130.93 669.30,132.10 C669.63,133.27 670.13,135.02 670.30,135.60"/>
<path d="M478.00,185.80 C480.00,185.85 487.17,186.02 490.00,186.10 C492.83,186.18 493.53,186.33 495.00,186.30 C496.47,186.27 497.77,186.13 498.80,185.90 C499.83,185.67 500.25,185.70 501.20,184.90 C502.15,184.10 503.55,182.52 504.50,181.10 C505.45,179.68 506.23,177.72 506.90,176.40 C507.57,175.08 508.03,174.00 508.50,173.20 C508.97,172.40 509.10,171.62 509.70,171.60 C510.30,171.58 511.07,172.53 512.10,173.10 C513.13,173.67 514.80,174.68 515.90,175.00 C517.00,175.32 517.60,175.32 518.70,175.00 C519.80,174.68 521.38,173.58 522.50,173.10 C523.62,172.62 524.45,171.95 525.40,172.10 C526.35,172.25 527.18,173.27 528.20,174.00 C529.22,174.73 530.40,175.70 531.50,176.50 C532.60,177.30 532.98,177.72 534.80,178.80 C536.62,179.88 539.87,181.82 542.40,183.00 C544.93,184.18 547.90,185.25 550.00,185.90 C552.10,186.55 553.33,186.58 555.00,186.90 C556.67,187.22 557.83,187.57 560.00,187.80 C562.17,188.03 564.93,188.13 568.00,188.30 C571.07,188.47 575.23,188.57 578.40,188.80 C581.57,189.03 584.08,189.42 587.00,189.70 C589.92,189.98 593.35,190.40 595.90,190.50 C598.45,190.60 601.13,190.38 602.30,190.30 C603.47,190.22 602.62,189.82 602.90,190.00 C603.18,190.18 603.48,191.15 604.00,191.35 C604.52,191.55 605.22,191.29 606.00,191.20 C606.78,191.11 607.87,191.20 608.70,190.80 C609.53,190.40 610.12,189.58 611.00,188.80 C611.88,188.02 613.17,186.15 614.00,186.10 C614.83,186.05 615.33,187.53 616.00,188.50 C616.67,189.47 617.33,191.68 618.00,191.90 C618.67,192.12 619.40,190.38 620.00,189.80 C620.60,189.22 621.05,188.37 621.60,188.40 C622.15,188.43 622.70,189.97 623.30,190.00 C623.90,190.03 624.62,189.15 625.20,188.60 C625.78,188.05 626.33,187.93 626.80,186.70 C627.27,185.47 627.67,183.23 628.00,181.20 C628.33,179.17 628.53,177.53 628.80,174.50 C629.07,171.47 629.32,169.36 629.60,163.00 C629.88,156.64 630.22,142.74 630.50,136.35 C630.78,129.96 631.02,127.17 631.30,124.65 C631.58,122.13 631.85,121.02 632.20,121.21 C632.55,121.41 632.97,123.95 633.40,125.81 C633.83,127.67 634.37,130.96 634.80,132.38 C635.23,133.80 635.27,138.47 636.00,134.35 C636.73,130.23 638.49,116.39 639.16,107.65 C639.83,98.91 639.75,89.85 640.02,81.91 C640.28,73.96 640.55,66.02 640.75,59.98 C640.95,53.94 641.09,49.17 641.23,45.67 C641.37,42.18 641.48,39.15 641.60,39.00 C641.72,38.85 641.82,41.74 641.94,44.75 C642.07,47.76 642.18,51.87 642.35,57.08 C642.53,62.28 642.75,69.13 642.98,75.98 C643.21,82.82 643.39,90.63 643.72,98.16 C644.06,105.69 644.57,119.23 645.00,121.17 C645.43,123.10 645.93,112.55 646.30,109.78 C646.67,107.00 646.97,105.54 647.20,104.52 C647.43,103.50 647.52,103.23 647.70,103.65 C647.88,104.06 648.03,104.49 648.30,107.03 C648.57,109.57 648.97,114.65 649.30,118.89 C649.63,123.12 649.98,129.33 650.30,132.43 C650.62,135.54 650.87,138.53 651.20,137.51 C651.53,136.49 651.83,130.98 652.30,126.32 C652.77,121.65 653.45,113.69 654.00,109.53 C654.55,105.36 655.22,102.87 655.60,101.32 C655.98,99.76 656.02,100.03 656.30,100.20 C656.58,100.37 656.97,102.12 657.30,102.33 C657.63,102.54 657.83,104.10 658.30,101.46 C658.77,98.82 659.69,91.39 660.10,86.49 C660.51,81.59 660.55,76.51 660.76,72.06 C660.96,67.60 661.16,63.15 661.32,59.76 C661.47,56.37 661.57,53.70 661.68,51.74 C661.79,49.78 661.88,47.81 662.00,48.00 C662.12,48.19 662.23,50.31 662.37,52.86 C662.51,55.40 662.64,58.87 662.84,63.27 C663.04,67.66 663.31,73.44 663.57,79.23 C663.83,85.01 664.02,91.60 664.42,97.96 C664.83,104.33 665.54,116.15 666.00,117.40 C666.46,118.64 666.88,108.57 667.20,105.41 C667.52,102.25 667.72,99.75 667.90,98.42 C668.08,97.09 668.07,97.01 668.30,97.42 C668.53,97.84 668.97,99.76 669.30,100.92 C669.63,102.09 670.13,103.84 670.30,104.42"/>
<path d="M478.00,158.90 C480.00,158.93 487.17,159.05 490.00,159.10 C492.83,159.15 493.72,159.12 495.00,159.20 C496.28,159.28 497.03,159.67 497.70,159.60 C498.37,159.53 498.57,159.30 499.00,158.80 C499.43,158.30 499.87,157.75 500.30,156.60 C500.73,155.45 501.20,153.57 501.60,151.90 C502.00,150.23 502.42,147.65 502.70,146.60 C502.98,145.55 503.08,145.82 503.30,145.60 C503.52,145.38 503.62,145.47 504.00,145.30 C504.38,145.13 505.18,144.90 505.60,144.60 C506.02,144.30 506.23,144.05 506.50,143.50 C506.77,142.95 506.90,142.78 507.20,141.30 C507.50,139.82 507.90,136.60 508.30,134.60 C508.70,132.60 509.23,130.52 509.60,129.30 C509.97,128.08 510.17,127.78 510.50,127.30 C510.83,126.82 511.08,126.40 511.60,126.40 C512.12,126.40 512.82,126.77 513.60,127.30 C514.38,127.83 515.45,129.08 516.30,129.60 C517.15,130.12 517.93,130.72 518.70,130.40 C519.47,130.08 520.15,128.55 520.90,127.70 C521.65,126.85 522.42,125.58 523.20,125.30 C523.98,125.02 524.77,125.33 525.60,126.00 C526.43,126.67 527.10,127.63 528.20,129.30 C529.30,130.97 530.87,133.78 532.20,136.00 C533.53,138.22 534.87,140.50 536.20,142.60 C537.53,144.70 538.87,146.93 540.20,148.60 C541.53,150.27 543.07,151.60 544.20,152.60 C545.33,153.60 546.03,154.00 547.00,154.60 C547.97,155.20 548.67,155.60 550.00,156.20 C551.33,156.80 553.67,157.80 555.00,158.20 C556.33,158.60 557.12,158.57 558.00,158.60 C558.88,158.63 559.73,158.67 560.30,158.40 C560.87,158.13 561.03,156.97 561.40,157.00 C561.77,157.03 562.10,158.23 562.50,158.60 C562.90,158.97 563.30,159.07 563.80,159.20 C564.30,159.33 565.02,159.33 565.50,159.40 C565.98,159.47 566.32,159.30 566.70,159.60 C567.08,159.90 567.25,160.88 567.80,161.20 C568.35,161.52 568.23,161.34 570.00,161.50 C571.77,161.66 575.57,161.90 578.40,162.15 C581.23,162.40 584.08,162.71 587.00,163.00 C589.92,163.29 593.35,163.68 595.90,163.90 C598.45,164.12 601.08,164.12 602.30,164.30 C603.52,164.48 602.92,164.52 603.20,165.00 C603.48,165.48 603.70,167.00 604.00,167.20 C604.30,167.40 604.60,166.50 605.00,166.20 C605.40,165.90 605.78,165.78 606.40,165.40 C607.02,165.02 607.93,164.47 608.70,163.90 C609.47,163.33 610.12,162.65 611.00,162.00 C611.88,161.35 613.17,160.08 614.00,160.00 C614.83,159.92 615.33,160.92 616.00,161.50 C616.67,162.08 617.33,163.50 618.00,163.50 C618.67,163.50 619.40,162.05 620.00,161.50 C620.60,160.95 621.05,160.27 621.60,160.20 C622.15,160.13 622.70,161.17 623.30,161.10 C623.90,161.03 624.62,160.35 625.20,159.80 C625.78,159.25 626.33,159.05 626.80,157.80 C627.27,156.55 627.67,154.33 628.00,152.30 C628.33,150.27 628.53,148.63 628.80,145.60 C629.07,142.57 629.32,138.34 629.60,134.10 C629.88,129.86 630.22,123.96 630.50,120.15 C630.78,116.34 631.02,113.15 631.30,111.22 C631.58,109.30 631.85,108.37 632.20,108.60 C632.55,108.83 632.97,110.97 633.40,112.59 C633.83,114.20 634.37,117.05 634.80,118.29 C635.23,119.52 635.28,124.21 636.00,120.00 C636.72,115.79 638.47,101.84 639.14,93.01 C639.80,84.17 639.74,75.01 640.00,66.98 C640.27,58.95 640.54,50.91 640.74,44.81 C640.95,38.70 641.08,33.88 641.23,30.35 C641.37,26.81 641.48,23.79 641.60,23.60 C641.72,23.41 641.81,26.28 641.94,29.23 C642.06,32.18 642.17,36.20 642.34,41.29 C642.51,46.38 642.73,53.08 642.96,59.78 C643.18,66.48 643.34,74.12 643.68,81.49 C644.02,88.86 644.56,101.99 645.00,104.00 C645.44,106.01 645.93,96.08 646.30,93.53 C646.67,90.99 646.97,89.64 647.20,88.71 C647.43,87.77 647.52,87.50 647.70,87.90 C647.88,88.30 648.03,88.70 648.30,91.11 C648.57,93.52 648.97,98.33 649.30,102.34 C649.63,106.36 649.98,112.24 650.30,115.19 C650.62,118.13 650.87,120.96 651.20,120.00 C651.53,119.04 651.83,113.82 652.30,109.41 C652.77,105.00 653.45,97.47 654.00,93.53 C654.55,89.58 655.22,87.23 655.60,85.76 C655.98,84.29 656.02,84.52 656.30,84.70 C656.58,84.88 656.97,86.63 657.30,86.85 C657.63,87.07 657.83,88.58 658.30,86.00 C658.77,83.42 659.72,76.15 660.14,71.36 C660.55,66.56 660.58,61.59 660.78,57.23 C660.98,52.88 661.18,48.52 661.33,45.21 C661.48,41.89 661.57,39.28 661.68,37.36 C661.80,35.44 661.89,33.55 662.00,33.70 C662.11,33.85 662.22,35.88 662.36,38.27 C662.49,40.67 662.62,43.93 662.80,48.07 C662.99,52.20 663.24,57.64 663.49,63.09 C663.73,68.53 663.87,74.73 664.29,80.72 C664.71,86.70 665.51,97.75 666.00,99.00 C666.49,100.25 666.88,91.05 667.20,88.20 C667.52,85.35 667.72,83.10 667.90,81.90 C668.08,80.70 668.07,80.57 668.30,81.00 C668.53,81.43 668.97,83.33 669.30,84.50 C669.63,85.67 670.13,87.42 670.30,88.00"/>
</g>
</svg>
<svg width="685" height="316" viewBox="0 0 685 316" style="position:absolute;left:0;top:0;will-change:transform" font-family="Liberation Sans, sans-serif" fill="#000">
<text x="11.6" y="12.0" font-size="14.4">No. 7-93 (Chlorite zone)</text>
<text x="19.7" y="41.0" font-size="15.2" font-weight="bold" text-anchor="middle">a</text>
<text x="19.7" y="178.6" font-size="15.2" font-weight="bold" text-anchor="middle">b</text>
<rect x="112.4" y="297.6" width="12.4" height="1.5" fill="#000"/>
<text x="130.0" y="304.2" font-size="14.65">100 µm</text>
<text x="205.3" y="19.6" font-size="15.2" font-weight="bold" text-anchor="middle">c</text>
<text x="198.0" y="275.0" font-size="14.75">Water content (ppm H<tspan font-size="10.3" dy="2.8" dx="0.3">2</tspan><tspan dy="-2.8" dx="0.2">O)</tspan></text>
<text x="198.0" y="311.3" font-size="13" text-anchor="middle">0</text>
<text x="231.96" y="311.3" font-size="13" text-anchor="middle">200</text>
<text x="265.92" y="311.3" font-size="13" text-anchor="middle">400</text>
<text x="299.88" y="311.3" font-size="13" text-anchor="middle">600</text>
<text x="333.84000000000003" y="311.3" font-size="13" text-anchor="middle">800</text>
<text x="367.8" y="311.3" font-size="13" text-anchor="middle">1000</text>
<text x="387.2" y="311.3" font-size="13">&gt;1200</text>
<text x="491.4" y="34.4" font-size="15.2" font-weight="bold" text-anchor="middle">d</text>
<text x="470.3" y="279.8" font-size="12" text-anchor="end">0</text>
<text x="470.3" y="259.87692307692305" font-size="12" text-anchor="end">20</text>
<text x="470.3" y="239.95384615384617" font-size="12" text-anchor="end">40</text>
<text x="470.3" y="220.03076923076924" font-size="12" text-anchor="end">60</text>
<text x="470.3" y="200.10769230769233" font-size="12" text-anchor="end">80</text>
<text x="470.3" y="180.1846153846154" font-size="12" text-anchor="end">100</text>
<text x="470.3" y="160.26153846153846" font-size="12" text-anchor="end">120</text>
<text x="470.3" y="140.33846153846156" font-size="12" text-anchor="end">140</text>
<text x="470.3" y="120.41538461538462" font-size="12" text-anchor="end">160</text>
<text x="470.3" y="100.49230769230769" font-size="12" text-anchor="end">180</text>
<text x="470.3" y="80.56923076923078" font-size="12" text-anchor="end">200</text>
<text x="470.3" y="60.64615384615385" font-size="12" text-anchor="end">220</text>
<text x="470.3" y="40.723076923076945" font-size="12" text-anchor="end">240</text>
<text x="470.3" y="20.80000000000001" font-size="12" text-anchor="end">260</text>
<text x="478.4" y="290.5" font-size="12" text-anchor="middle">4000</text>
<text x="516.8199999999999" y="290.5" font-size="12" text-anchor="middle">3500</text>
<text x="555.24" y="290.5" font-size="12" text-anchor="middle">3000</text>
<text x="593.66" y="290.5" font-size="12" text-anchor="middle">2500</text>
<text x="632.0799999999999" y="290.5" font-size="12" text-anchor="middle">2000</text>
<text x="670.5" y="290.5" font-size="12" text-anchor="middle">1500</text>
<text x="575.6" y="311.4" font-size="14.8" text-anchor="middle">Wavenumber (cm<tspan font-size="10" dy="-5.5">−1</tspan><tspan dy="5.5">)</tspan></text>
<text transform="translate(439.8,154.4) rotate(-90)" font-size="14.85" text-anchor="middle">Absorbance (1-cm sample thickness)</text>
<text x="490.75" y="265.2" font-size="12" text-anchor="middle">1</text>
<text x="490.5" y="232.5" font-size="12" text-anchor="middle">2</text>
<text x="490.85" y="209.4" font-size="12" text-anchor="middle">3</text>
<text x="490.65" y="183.7" font-size="12" text-anchor="middle">4</text>
<text x="490.9" y="156.4" font-size="12" text-anchor="middle">5</text>
<text x="501.4" y="262.3" font-size="11.15">Qtz, 225 ppm</text>
<text x="501.4" y="230.8" font-size="11.15">Qtz, 308 ppm</text>
<text x="496.8" y="203.8" font-size="11.15">Qtz+Phyl, 455 ppm</text>
<text x="485.9" y="170.5" font-size="11.15">Qtz+Phyl, 1181 ppm</text>
<text x="493.6" y="120.1" font-size="11.15">Qtz+Phyl, 2643 ppm</text>
<text x="372.8" y="115.2" font-size="12.2" text-anchor="middle" fill="#fff">1</text>
<text x="257.9" y="115.8" font-size="12.2" text-anchor="middle" fill="#fff">2</text>
<text x="311.9" y="160.4" font-size="12.2" text-anchor="middle" fill="#fff">3</text>
<text x="300.9" y="187.2" font-size="12.2" text-anchor="middle" fill="#fff">4</text>
<text x="293.1" y="249.7" font-size="12.2" text-anchor="middle" fill="#fff">5</text>
</svg>
</body></html>
